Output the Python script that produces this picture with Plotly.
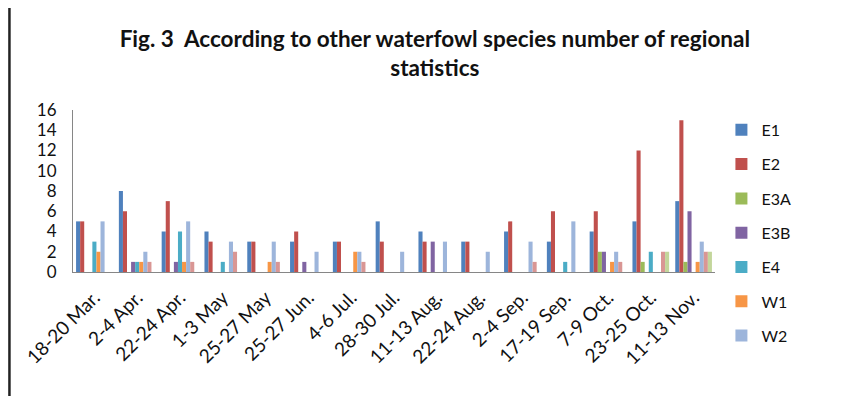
import plotly.graph_objects as go

categories = ["18-20 Mar.", "2-4 Apr.", "22-24 Apr.", "1-3 May", "25-27 May", "25-27 Jun.",
              "4-6 Jul.", "28-30 Jul.", "11-13 Aug.", "22-24 Aug.", "2-4 Sep.", "17-19 Sep.",
              "7-9 Oct.", "23-25 Oct.", "11-13 Nov."]

E1  = [5, 8, 4, 4, 3, 3, 3, 5, 4, 3, 4, 3, 4, 5, 7]
E2  = [5, 6, 7, 3, 3, 4, 3, 3, 3, 3, 5, 6, 6, 12, 15]
E3A = [0, 0, 0, 0, 0, 0, 0, 0, 0, 0, 0, 0, 2, 1, 1]
E3B = [0, 1, 1, 0, 0, 1, 0, 0, 3, 0, 0, 0, 2, 0, 6]
E4  = [3, 1, 4, 1, 0, 0, 0, 0, 0, 0, 0, 1, 0, 2, 0]
W1  = [2, 1, 1, 0, 1, 0, 2, 0, 0, 0, 0, 0, 1, 0, 1]
W2  = [5, 2, 5, 3, 3, 2, 2, 2, 3, 2, 3, 5, 2, 0, 3]
W3  = [0, 1, 1, 2, 1, 0, 1, 0, 0, 0, 1, 0, 1, 2, 2]
W4  = [0, 0, 0, 0, 0, 0, 0, 0, 0, 0, 0, 0, 0, 2, 2]

series = [
    ("E1", E1, "#4F81BD", True),
    ("E2", E2, "#C0504D", True),
    ("E3A", E3A, "#9BBB59", True),
    ("E3B", E3B, "#8064A2", True),
    ("E4", E4, "#4BACC6", True),
    ("W1", W1, "#F79646", True),
    ("W2", W2, "#9DB5DB", True),
    ("W3", W3, "#D99694", False),
    ("W4", W4, "#C3D69B", False),
]

FONT = "Lato, Carlito, Calibri, sans-serif"

fig = go.Figure()
for name, vals, color, show in series:
    fig.add_trace(go.Bar(
        x=categories, y=vals, name=name, marker=dict(color=color, line=dict(width=0)),
        showlegend=show, legendgroup=name,
    ))

fig.update_layout(
    width=837, height=388,
    margin=dict(l=65, r=130, t=102, b=124, autoexpand=False),
    paper_bgcolor="white", plot_bgcolor="white",
    barmode="group", bargap=0.143, bargroupgap=0,
    font=dict(family=FONT, size=17, color="#111"),
    title=dict(
        text="<b>Fig. 3  According to other waterfowl species number of regional<br>statistics</b>",
        x=0.51, xanchor="center", yref="container", y=0.9, yanchor="top",
        font=dict(family=FONT, size=22.5, color="#111"),
    ),
    legend=dict(
        x=1.01, xanchor="left", y=0.982, yanchor="top",
        font=dict(family=FONT, size=16, color="#111"),
        tracegroupgap=10.5, itemwidth=30, maxheight=400,
        bgcolor="rgba(0,0,0,0)",
    ),
    xaxis=dict(
        tickangle=-45, showline=True, linecolor="#868686", linewidth=1,
        showgrid=False, ticks="", tickfont=dict(size=19), ticklabelstandoff=6,
    ),
    yaxis=dict(
        range=[0, 16], dtick=2, showline=True, linecolor="#868686", linewidth=1,
        showgrid=False, zeroline=False, ticks="", tickfont=dict(size=17),
        ticklabelstandoff=12,
    ),
    shapes=[
        dict(type="line", xref="paper", yref="paper", x0=-0.099, x1=-0.099, y0=-1.0, y1=2,
             line=dict(color="#222", width=2.5)),
    ],
)

fig.write_html("out.html")
